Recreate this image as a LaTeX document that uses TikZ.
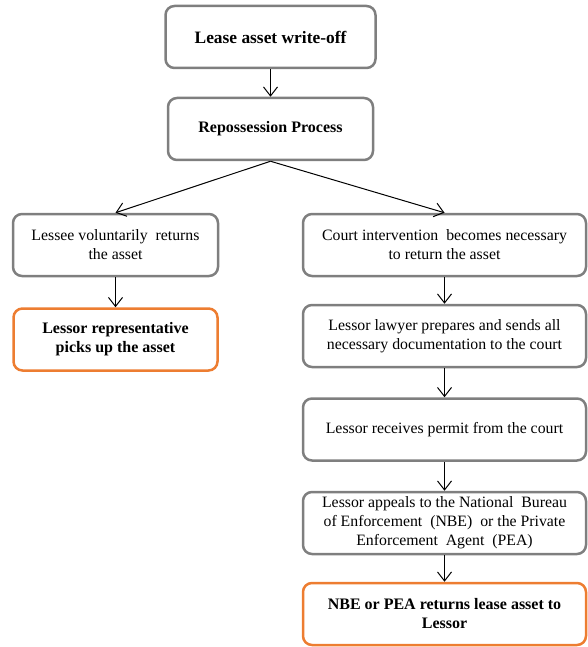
\documentclass[tikz,border=0pt]{standalone}
\usepackage{fontspec}
\setmainfont{Liberation Serif}
\usepackage{xcolor}
\usetikzlibrary{arrows.meta}
\definecolor{boxgray}{HTML}{7F7F7F}
\definecolor{boxorange}{HTML}{ED7D31}

\begin{document}
\begin{tikzpicture}[x=1pt,y=-1pt,
  grbox/.style={draw=boxgray, line width=2.5pt, rounded corners=9pt, align=center,
    minimum height=62pt, inner sep=0pt, font=\fontsize{15.8}{19}\selectfont},
  bfbox/.style={grbox, font=\fontsize{16}{19}\selectfont\bfseries},
  orbox/.style={bfbox, draw=boxorange},
  flow/.style={-{Straight Barb[length=9pt,width=14pt]}, line width=1pt}]
\useasboundingbox (0,0) rectangle (587,647);

\node[bfbox, minimum width=210pt, font=\fontsize{17.4}{19}\selectfont\bfseries] (writeoff) at (270.5,37) {Lease asset write-off};
\node[bfbox, minimum width=205pt] (repo) at (270.5,129) {Repossession Process};

% left branch
\node[grbox, minimum width=205pt] (lessee) at (115.5,245) {Lessee voluntarily\ \ returns\\the\ asset};
\node[orbox, minimum width=204pt] (pickup) at (115.5,339.5) {Lessor representative\\picks up\ the asset};

% right branch
\node[grbox, minimum width=283pt] (court) at (444.5,245) {Court intervention\ \ becomes necessary\\to return\ the asset};
\node[grbox, minimum width=283pt] (lawyer) at (444.5,336) {Lessor lawyer\ prepares and sends all\\necessary documentation to the court};
\node[grbox, minimum width=283pt] (permit) at (444.5,429.5) {Lessor receives permit from the court};
\node[grbox, minimum width=283pt] (appeal) at (444.5,523) {Lessor appeals to the National\ \ Bureau\\of Enforcement\ \ (NBE)\ \ or the Private\\Enforcement\ \ Agent\ \ (PEA)};
\node[orbox, minimum width=283pt] (nbe) at (444.5,614) {NBE or PEA returns lease asset to\\Lessor};

\draw[flow] (writeoff.south) -- (repo.north);
\draw[flow] (repo.south) -- (lessee.north);
\draw[flow] (repo.south) -- (court.north);
\draw[flow] (lessee.south) -- (pickup.north);
\draw[flow] (court.south) -- (lawyer.north);
\draw[flow] (lawyer.south) -- (permit.north);
\draw[flow] (permit.south) -- (appeal.north);
\draw[flow] (appeal.south) -- (nbe.north);
\end{tikzpicture}
\end{document}
